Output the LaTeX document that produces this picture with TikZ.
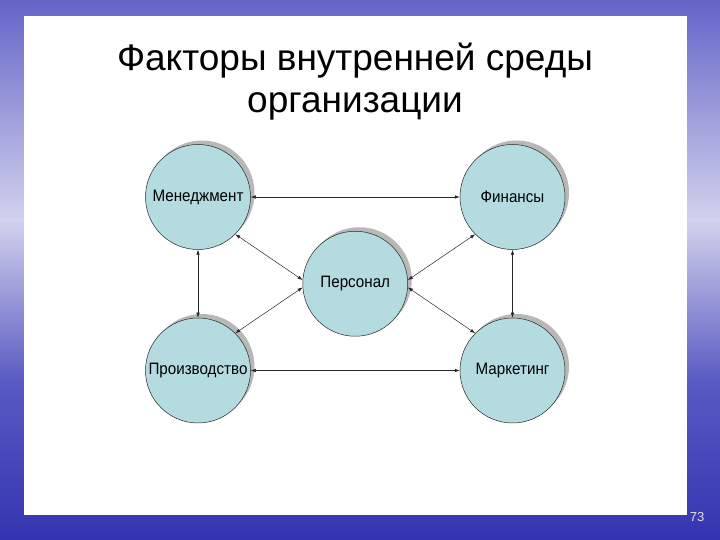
\documentclass[tikz,border=0pt]{standalone}
\usepackage{fontspec}
\setmainfont{Liberation Sans}
\newfontfamily\factorfont[FakeStretch=0.92]{Liberation Sans}
\usetikzlibrary{arrows.meta,positioning,calc,shadows}
\definecolor{skytop}{HTML}{6464C8}
\definecolor{skylow}{HTML}{A0A0DC}
\definecolor{seahaze}{HTML}{D2D2EE}
\definecolor{seamid}{HTML}{9696D8}
\definecolor{seablue}{HTML}{5A5AC4}
\definecolor{seadeep}{HTML}{3434B0}
\definecolor{factorfill}{HTML}{B4DCE0}
\tikzset{
factor/.style={draw=black!85,line width=.5pt,circle,fill=factorfill,minimum size=105pt,inner sep=0pt,align=center,font=\factorfont\fontsize{16.5}{19}\selectfont,
  drop shadow={shadow xshift=4pt,shadow yshift=4pt,fill=black!28,opacity=1}},
title/.style={anchor=base,font=\fontsize{37}{44}\selectfont},
link/.style={{Latex[length=5pt,width=3.5pt]}-{Latex[length=5pt,width=3.5pt]},line width=.5pt,draw=black!85}
}
\begin{document}
\begin{tikzpicture}[x=1pt,y=1pt]
\useasboundingbox (0,0) rectangle (720,540);
\shade[top color=skytop,bottom color=skylow] (0,419) rectangle (720,540);
\shade[top color=skylow,bottom color=seahaze] (0,319) rectangle (720,420);
\shade[top color=seahaze,bottom color=seamid] (0,239) rectangle (720,320);
\shade[top color=seamid,bottom color=seablue] (0,159) rectangle (720,240);
\shade[top color=seablue,bottom color=seadeep] (0,0) rectangle (720,160);
\fill[white] (24,25) rectangle (687,524);
\node[title] (title1) at (355,469) {Факторы внутренней среды};
\node[title] (title2) at (355,427) {организации};
\node[factor] (menedzhment) at (198,343) {Менеджмент};
\node[factor,right=209pt of menedzhment] (finansy) {Финансы};
\node[factor,below=68pt of menedzhment] (proizvodstvo) {Производство};
\node[factor,below=68pt of finansy] (marketing) {Маркетинг};
\node[factor] (personal) at ($(menedzhment)!.5!(marketing)$) {Персонал};
\node[text=black!12,font=\fontsize{13}{15}\selectfont] (page) at (697,23) {73};
\draw[link] (menedzhment)--(finansy);
\draw[link] (proizvodstvo)--(marketing);
\draw[link] (menedzhment)--(proizvodstvo);
\draw[link] (finansy)--(marketing);
\draw[link] (menedzhment.-45)--(personal.176);
\draw[link] (proizvodstvo.45)--(personal.184);
\draw[link] (finansy.225)--(personal.4);
\draw[link] (marketing.135)--(personal.-4);
\end{tikzpicture}
\end{document}
